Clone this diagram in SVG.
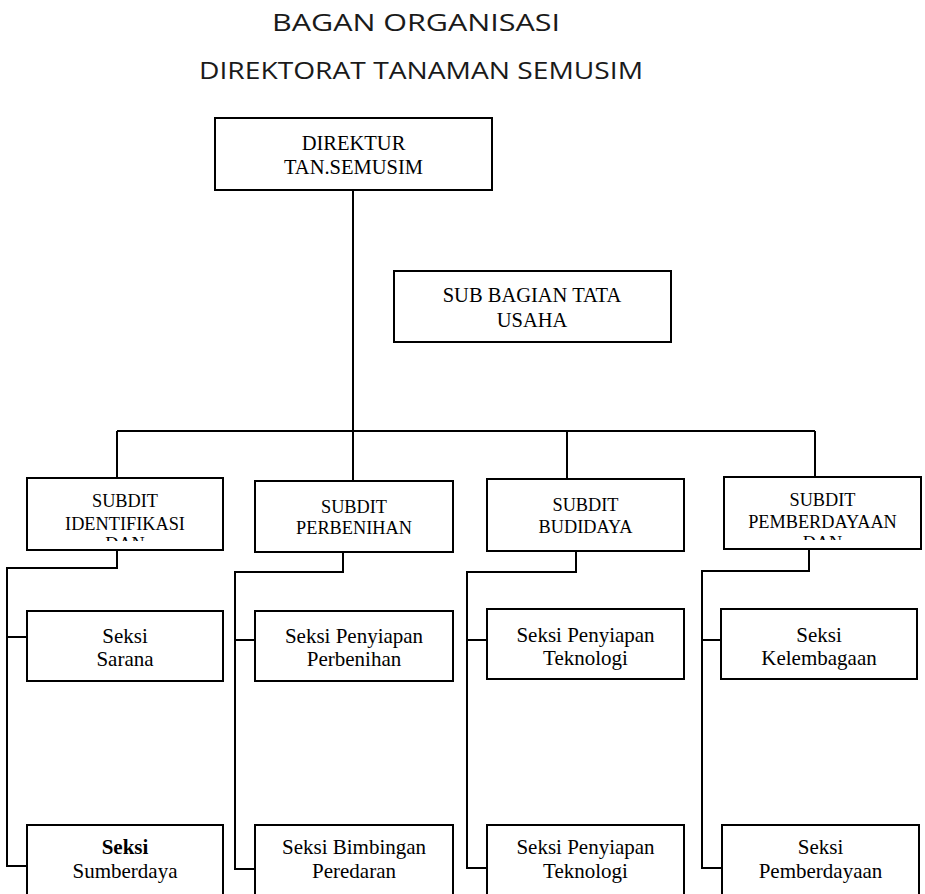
<svg xmlns="http://www.w3.org/2000/svg" width="925" height="894" viewBox="0 0 925 894">
<style>
.box{fill:#fff;stroke:#000;stroke-width:2}
.ln{fill:none;stroke:#000;stroke-width:2}
.t{font-family:"Liberation Serif","Times New Roman",serif;font-size:20.5px;fill:#000;text-anchor:middle}
.s{font-family:"Liberation Serif","Times New Roman",serif;font-size:18.3px;fill:#000;text-anchor:middle}
.k{font-family:"Liberation Serif","Times New Roman",serif;font-size:21px;fill:#000;text-anchor:middle}
.title{font-family:"Open Sans","DejaVu Sans",sans-serif;font-size:23.5px;font-weight:400;fill:#1a1a1a;text-anchor:middle}
</style>
<defs>
<clipPath id="c1"><rect x="27" y="478" width="196" height="63"/></clipPath>
<clipPath id="c4"><rect x="724" y="477" width="197" height="63"/></clipPath>
</defs>
<rect width="925" height="894" fill="#fff"/>
<g id="title">
<text class="title" x="416" y="31" textLength="288" lengthAdjust="spacingAndGlyphs">BAGAN ORGANISASI</text>
<text class="title" x="421" y="79" textLength="444" lengthAdjust="spacingAndGlyphs">DIREKTORAT TANAMAN SEMUSIM</text>
</g>
<g id="connectors">
<path class="ln" d="M353 190 V481"/>
<path class="ln" d="M117 431 H815"/>
<path class="ln" d="M117 431 V478 M567 431 V479 M815 431 V477"/>
<path class="ln" d="M117 550 V568 H7 V866 H27 M7 637 H27"/>
<path class="ln" d="M343 552 V572 H235 V869 H255 M235 640 H255"/>
<path class="ln" d="M576 551 V572 H467 V868 H487 M467 640 H487"/>
<path class="ln" d="M809 549 V571 H702 V868 H722 M702 640 H721"/>
</g>
<g id="direktur">
<rect class="box" x="215" y="118" width="277" height="72"/>
<text class="t" x="353.5" y="150">DIREKTUR</text>
<text class="t" x="353.5" y="174">TAN.SEMUSIM</text>
</g>
<g id="tata-usaha">
<rect class="box" x="394" y="271" width="277" height="71"/>
<text class="t" x="532" y="302">SUB BAGIAN TATA</text>
<text class="t" x="532" y="327">USAHA</text>
</g>
<g id="subdit-identifikasi">
<rect class="box" x="27" y="478" width="196" height="72"/>
<g clip-path="url(#c1)">
<text class="s" x="125" y="507">SUBDIT</text>
<text class="s" x="125" y="530">IDENTIFIKASI</text>
<text class="s" x="125" y="550">DAN</text>
</g>
</g>
<g id="subdit-perbenihan">
<rect class="box" x="255" y="481" width="198" height="71"/>
<text class="s" x="354" y="513">SUBDIT</text>
<text class="s" x="354" y="534">PERBENIHAN</text>
</g>
<g id="subdit-budidaya">
<rect class="box" x="487" y="479" width="197" height="72"/>
<text class="s" x="585.5" y="511">SUBDIT</text>
<text class="s" x="585.5" y="533">BUDIDAYA</text>
</g>
<g id="subdit-pemberdayaan">
<rect class="box" x="724" y="477" width="197" height="72"/>
<g clip-path="url(#c4)">
<text class="s" x="822.5" y="506">SUBDIT</text>
<text class="s" x="822.5" y="528">PEMBERDAYAAN</text>
<text class="s" x="822.5" y="549">DAN</text>
</g>
</g>
<g id="seksi-sarana">
<rect class="box" x="27" y="611" width="196" height="70"/>
<text class="k" x="125" y="643">Seksi</text>
<text class="k" x="125" y="666">Sarana</text>
</g>
<g id="seksi-penyiapan-perbenihan">
<rect class="box" x="255" y="611" width="198" height="70"/>
<text class="k" x="354" y="643">Seksi Penyiapan</text>
<text class="k" x="354" y="666">Perbenihan</text>
</g>
<g id="seksi-penyiapan-teknologi-1">
<rect class="box" x="487" y="609" width="197" height="70"/>
<text class="k" x="585.5" y="642">Seksi Penyiapan</text>
<text class="k" x="585.5" y="665">Teknologi</text>
</g>
<g id="seksi-kelembagaan">
<rect class="box" x="721" y="609" width="196" height="70"/>
<text class="k" x="819" y="642">Seksi</text>
<text class="k" x="819" y="665">Kelembagaan</text>
</g>
<g id="seksi-sumberdaya">
<rect class="box" x="27" y="825" width="196" height="90"/>
<text class="k" x="125" y="854" font-weight="bold">Seksi</text>
<text class="k" x="125" y="878">Sumberdaya</text>
</g>
<g id="seksi-bimbingan-peredaran">
<rect class="box" x="255" y="825" width="198" height="90"/>
<text class="k" x="354" y="854">Seksi Bimbingan</text>
<text class="k" x="354" y="878">Peredaran</text>
</g>
<g id="seksi-penyiapan-teknologi-2">
<rect class="box" x="487" y="825" width="197" height="90"/>
<text class="k" x="585.5" y="854">Seksi Penyiapan</text>
<text class="k" x="585.5" y="878">Teknologi</text>
</g>
<g id="seksi-pemberdayaan">
<rect class="box" x="722" y="825" width="197" height="90"/>
<text class="k" x="820.5" y="854">Seksi</text>
<text class="k" x="820.5" y="878">Pemberdayaan</text>
</g>
</svg>
